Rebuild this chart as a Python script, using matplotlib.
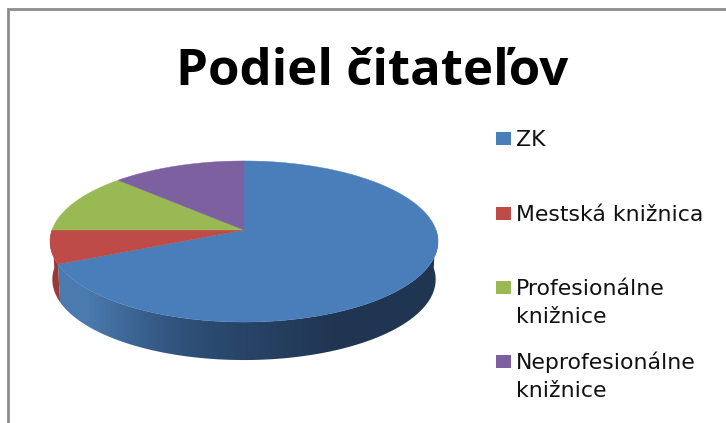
import numpy as np
import matplotlib
matplotlib.use('Agg')
import matplotlib.pyplot as plt
from matplotlib.patches import Polygon, Rectangle

title = 'Podiel čitateľov'
categories = ['ZK', 'Mestská knižnica', 'Profesionálne\nknižnice', 'Neprofesionálne\nknižnice']
shares = [68.3, 6.7, 12.2, 12.8]
colors = ['#4a7ebb', '#be4b48', '#98b954', '#7d60a0']
legend_y = [139, 214, 288, 362]

# pie geometry in pixels, disc tilted with a bit of perspective
cx, cy = 244, 230
rx, ry = 192, 78.9
persp = 1 / 7
depth = 38
taper = 0.988


def disc(angle):
    # angle in degrees, clockwise from the top of the disc
    a = np.radians(angle)
    x, y = np.sin(a), np.cos(a)
    w = 1 + persp * y
    return cx + rx * x / w, cy - ry * y / w


def rim_poly(a1, a2):
    t = np.linspace(a1, a2, 200)
    xt, yt = disc(t)
    xb = cx + (xt - cx) * taper
    yb = yt + depth
    return np.column_stack([np.r_[xt, xb[::-1]], np.r_[yt, yb[::-1]]])


fig = plt.figure(figsize=(7.26, 4.23), dpi=100)
ax = fig.add_axes([0, 0, 1, 1])
ax.set_xlim(0, 726)
ax.set_ylim(423, 0)
ax.axis('off')

# frame of the original screenshot
ax.plot([8, 8, 726], [423, 9, 9], color='#8c8c8c', lw=2, solid_joinstyle='miter')

edges = np.r_[0, np.cumsum(shares)] / np.sum(shares) * 360

# sides, only the front half of the rim shows
side = Polygon(rim_poly(90, edges[1]), closed=True, fc='none', ec='none')
ax.add_patch(side)
grad = np.array([[0.0, 0.35, 0.62, 0.82, 1.0, 1.0]])
cmap = matplotlib.colors.LinearSegmentedColormap.from_list('side', ['#4a7aae', '#2f5079', '#1f3551'])
im = ax.imshow(grad, cmap=cmap, extent=(55, 438, 423, 0), aspect='auto', interpolation='bilinear', zorder=1)
im.set_clip_path(side)
ax.set_xlim(0, 726)
ax.set_ylim(423, 0)
ax.add_patch(Polygon(rim_poly(edges[1], 270), closed=True, fc='#973a38', ec='none', zorder=1))

# top of the pie
for i in range(len(shares)):
    t = np.linspace(edges[i], edges[i + 1], 200)
    xt, yt = disc(t)
    pts = np.column_stack([np.r_[cx, xt], np.r_[cy, yt]])
    ax.add_patch(Polygon(pts, closed=True, fc=colors[i], ec=colors[i], lw=0.3, zorder=2))

ax.text(372, 85, title, ha='center', va='baseline', fontsize=36.7, fontweight='bold', family='Open Sans', color='black')

for name, col, y in zip(categories, colors, legend_y):
    ax.add_patch(Rectangle((496, y - 6.5), 15, 13, fc=col, ec='none'))
    # one text per line, the line gap is fixed in the original
    for j, line in enumerate(name.split('\n')):
        ax.text(516, y + 7 + j * 28, line, ha='left', va='baseline', fontsize=15.8, family='DejaVu Sans', color='#111111')

fig.savefig('out.png', dpi=100)
